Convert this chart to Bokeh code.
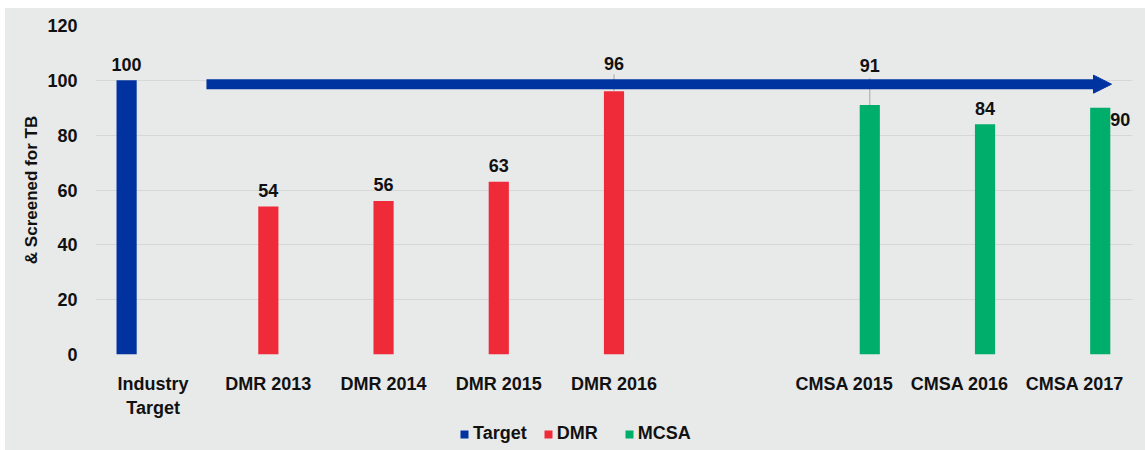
from bokeh.plotting import figure
from bokeh.layouts import column, row
from bokeh.models import (FactorRange, Range1d, Legend, LegendItem, Arrow, NormalHead,
                          ColumnDataSource, FixedTicker, Spacer)
from bokeh.transform import dodge
from bokeh.core.properties import value
from bokeh.embed import file_html
from bokeh.resources import INLINE

# ---- data ----
categories = ["Industry\nTarget", "DMR 2013", "DMR 2014", "DMR 2015", "DMR 2016", " ",
              "CMSA 2015", "CMSA 2016", "CMSA 2017"]
series_names = ["Target", "DMR", "MCSA"]
target_cats = ["Industry\nTarget"]
target_vals = [100]
dmr_cats = ["DMR 2013", "DMR 2014", "DMR 2015", "DMR 2016"]
dmr_vals = [54, 56, 63, 96]
mcsa_cats = ["CMSA 2015", "CMSA 2016", "CMSA 2017"]
mcsa_vals = [91, 84, 90]
y_ticks = [0, 20, 40, 60, 80, 100, 120]
y_axis_title = "& Screened for TB"
arrow_from, arrow_to, arrow_level = 0.963, 8.818, 98.6

# ---- style ----
BG = "#e8e9e9"
COLORS = {"Target": "#0033a0", "DMR": "#f02b39", "MCSA": "#00ae6b"}
OFFSETS = {"Target": -0.23, "DMR": 0.0, "MCSA": 0.22}
BAR_W = 0.175
FONT = "Liberation Sans"
FS = "18px"
TXT = "#111111"
# label placement overrides: (y_offset px, leader length in data units)
LEADER = {"DMR 2016": (-28, 6.2), "CMSA 2015": (-40, 9.8)}
DEFAULT_DY = -16
SIDE_LABEL = {"CMSA 2017"}
LEGEND_PAD = {"DMR": "  "}

p = figure(width=1140, height=412, x_range=FactorRange(*categories), y_range=Range1d(0, 120),
           output_backend="svg", toolbar_location=None,
           min_border_left=90, min_border_right=13, min_border_top=17, min_border_bottom=64)
p.background_fill_color = BG
p.border_fill_color = BG
p.outline_line_color = None
p.xgrid.grid_line_color = None
p.ygrid.grid_line_color = "#d6d7d7"
p.ygrid.grid_line_width = 1

p.yaxis.ticker = FixedTicker(ticks=y_ticks)
for ax in (p.xaxis[0], p.yaxis[0]):
    ax.axis_line_color = None
    ax.major_tick_line_color = None
    ax.minor_tick_line_color = None
    ax.major_label_text_font = FONT
    ax.major_label_text_font_style = "bold"
    ax.major_label_text_font_size = FS
    ax.major_label_text_color = TXT
p.yaxis.major_label_standoff = 12
p.yaxis.axis_label = y_axis_title
p.yaxis.axis_label_text_font = FONT
p.yaxis.axis_label_text_font_style = "bold"
p.yaxis.axis_label_text_font_size = "17px"
p.yaxis.axis_label_text_color = TXT
p.yaxis.axis_label_standoff = 3
p.xaxis.major_label_standoff = 13

renderers = {}
for name, cats, vals in (("Target", target_cats, target_vals),
                         ("DMR", dmr_cats, dmr_vals),
                         ("MCSA", mcsa_cats, mcsa_vals)):
    src = ColumnDataSource(dict(cat=cats, val=vals, lbl=[str(v) for v in vals],
                                yoff=[LEADER.get(c, (DEFAULT_DY, 0))[0] for c in cats]))
    xd = dodge("cat", OFFSETS[name], range=p.x_range)
    renderers[name] = p.vbar(x=xd, top="val", width=BAR_W, source=src,
                             fill_color=COLORS[name], line_color=None)
    keep = [i for i, c in enumerate(cats) if c not in SIDE_LABEL]
    lsrc = ColumnDataSource({k: [v[i] for i in keep] for k, v in src.data.items()})
    p.text(x=xd, y="val", text="lbl", y_offset="yoff", source=lsrc,
           text_align="center", text_baseline="alphabetic",
           text_font=value(FONT), text_font_style="bold", text_font_size=FS,
           text_color=TXT)
    lead = [i for i, c in enumerate(cats) if c in LEADER]
    if lead:
        ls = ColumnDataSource(dict(cat=[cats[i] for i in lead],
                                   y0=[vals[i] for i in lead],
                                   y1=[vals[i] + LEADER[cats[i]][1] for i in lead]))
        p.segment(x0=dodge("cat", OFFSETS[name], range=p.x_range), y0="y0",
                  x1=dodge("cat", OFFSETS[name], range=p.x_range), y1="y1",
                  source=ls, line_color="#a6a6a6", line_width=1)
    side = [i for i, c in enumerate(cats) if c in SIDE_LABEL]
    if side:
        ss = ColumnDataSource(dict(cat=[cats[i] for i in side], val=[vals[i] for i in side],
                                   lbl=[str(vals[i]) for i in side]))
        p.text(x=xd, y="val", text="lbl", x_offset=10, y_offset=12, source=ss,
               text_align="left", text_baseline="middle",
               text_font=value(FONT), text_font_style="bold", text_font_size=FS,
               text_color=TXT)

p.add_layout(Arrow(end=NormalHead(size=18, fill_color=COLORS["Target"], line_color=COLORS["Target"]),
                   x_start=arrow_from, y_start=arrow_level, x_end=arrow_to, y_end=arrow_level,
                   line_color=COLORS["Target"], line_width=10))

# ---- legend strip (separate small figure under the chart) ----
lg = figure(width=1140, height=30, x_range=Range1d(0, 1), y_range=Range1d(0, 1),
            output_backend="svg", toolbar_location=None,
            min_border_left=90, min_border_right=13, min_border_top=0, min_border_bottom=0,
            x_axis_location=None, y_axis_location=None)
lg.background_fill_color = BG
lg.border_fill_color = BG
lg.outline_line_color = None
lg.grid.visible = False
lg_items = []
for n in series_names:
    # zero-size proxy glyph: nothing is drawn, but the legend swatch gets its colour
    r = lg.vbar(x=[0.5], top=[0], bottom=[0], width=0, fill_color=COLORS[n], line_color=None)
    lg_items.append(LegendItem(label=n + LEGEND_PAD.get(n, ""), renderers=[r]))
legend = Legend(items=lg_items, orientation="horizontal", location=(364, 6),
                label_text_font=FONT, label_text_font_style="bold", label_text_font_size=FS,
                label_text_color=TXT,
                glyph_width=10, glyph_height=10, label_standoff=4, spacing=16,
                padding=0, margin=0, background_fill_alpha=0, border_line_color=None)
lg.add_layout(legend, "center")

page = column(Spacer(height=8),
              row(Spacer(width=5),
                  column(p, lg, spacing=0, styles={"background-color": BG})))
open("out.html", "w").write(file_html(page, INLINE))
